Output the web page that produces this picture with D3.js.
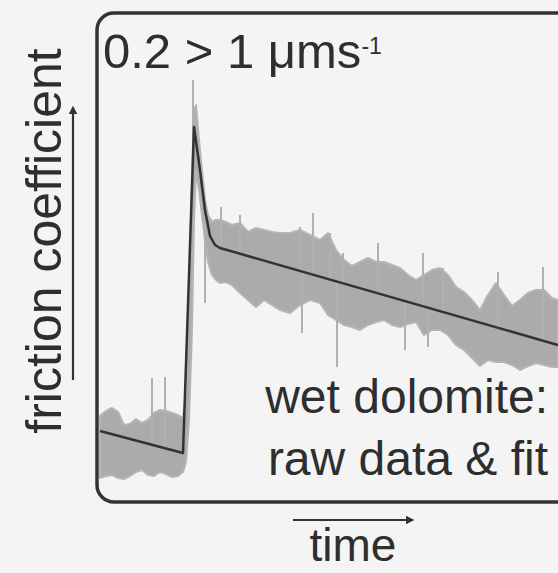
<!DOCTYPE html>
<html>
<head>
<meta charset="utf-8">
<script src="https://cdn.jsdelivr.net/npm/d3@7"></script>
<style>
  body { margin: 0; background: #f4f4f4; }
  svg { display: block; }
  text { font-family: "Liberation Sans", Arial, Helvetica, sans-serif; fill: #2e2e2e; }
</style>
</head>
<body>
<div id="chart"></div>
<script>
// fit line (time in arbitrary s, friction coefficient)
var fitT  = [0, 83, 94, 100, 105, 110, 115, 120, 458];
var fitMu = [0.5345, 0.5235, 0.6865, 0.665, 0.645, 0.632, 0.6275, 0.626, 0.5775];

// raw data envelope
var rawT = [0, 6, 12, 18, 24, 30, 36, 42, 48, 54, 60, 66, 72, 78, 83, 86, 89, 92, 94, 96, 99,
  102, 105, 108, 112, 116, 120, 126, 132, 140, 148, 156, 164, 172, 180, 190, 200, 210, 220,
  228, 236, 244, 252, 260, 268, 276, 284, 292, 300, 308, 316, 324, 332, 340, 348, 356, 364,
  372, 380, 388, 396, 404, 412, 420, 428, 436, 444, 452, 458];
var rawHigh = [0.542, 0.5445, 0.546, 0.544, 0.5375, 0.538, 0.5405, 0.5385, 0.54, 0.5435, 0.545,
  0.5445, 0.5435, 0.5425, 0.541, 0.5525, 0.6, 0.66, 0.695, 0.6975, 0.68, 0.665, 0.65, 0.6425,
  0.639, 0.64, 0.64, 0.639, 0.6375, 0.6385, 0.634, 0.636, 0.635, 0.634, 0.6335, 0.6335, 0.635,
  0.6325, 0.63, 0.6335, 0.625, 0.62, 0.617, 0.619, 0.621, 0.619, 0.619, 0.6175, 0.616, 0.6125,
  0.61, 0.6125, 0.615, 0.616, 0.6125, 0.6065, 0.604, 0.6, 0.595, 0.6025, 0.6085, 0.6025, 0.597,
  0.6, 0.6035, 0.605, 0.605, 0.601, 0.6];
var rawLow = [0.511, 0.512, 0.5125, 0.511, 0.5105, 0.512, 0.514, 0.515, 0.5125, 0.512, 0.514,
  0.513, 0.5115, 0.512, 0.514, 0.519, 0.54, 0.585, 0.64, 0.665, 0.655, 0.6425, 0.63, 0.619,
  0.6125, 0.61, 0.6085, 0.609, 0.6075, 0.6035, 0.6, 0.5965, 0.6, 0.5975, 0.595, 0.5935, 0.5975,
  0.6, 0.5985, 0.5925, 0.59, 0.5875, 0.5865, 0.585, 0.5875, 0.589, 0.59, 0.5875, 0.5865, 0.588,
  0.589, 0.5825, 0.585, 0.585, 0.5825, 0.5775, 0.575, 0.571, 0.567, 0.57, 0.569, 0.569, 0.5675,
  0.565, 0.567, 0.5685, 0.5675, 0.5665, 0.5665];

// single spikes in the raw signal: time and extreme value
var spikeT  = [52, 65, 93, 121, 140, 200, 213, 230, 243, 278, 323, 343, 398, 443, 105, 202, 237, 305, 328];
var spikeMu = [0.561, 0.5615, 0.71, 0.6465, 0.6425, 0.6365, 0.6435, 0.6335, 0.6235, 0.6285, 0.6235,
  0.616, 0.614, 0.6165, 0.5985, 0.5835, 0.5665, 0.575, 0.5765];

var svgWidth = 558;
var svgHeight = 573;

var svg = d3.select("#chart")
  .append("svg")
  .attr("width", svgWidth)
  .attr("height", svgHeight);

var xScale = d3.scaleLinear().domain([0, 460]).range([100, 560]);
var yScale = d3.scaleLinear().domain([0.5, 0.74]).range([500, 20]);
// piecewise fit, used to start the spikes on the fit
var fitAt = d3.scaleLinear().domain(fitT).range(fitMu);

// frame
svg.append("rect")
  .attr("x", 97)
  .attr("y", 13)
  .attr("width", 480)
  .attr("height", 489)
  .attr("rx", 17)
  .attr("fill", "#f4f4f4")
  .attr("stroke", "#333")
  .attr("stroke-width", 3.5);

var plot = svg.append("g");

// raw data band
var rawRows = rawT.map(function(t, i) {
  return { t: t, hi: rawHigh[i], lo: rawLow[i] };
});
var area = d3.area()
  .x(d => xScale(d.t))
  .y0(d => yScale(d.lo))
  .y1(d => yScale(d.hi));

plot.append("path")
  .datum(rawRows)
  .attr("d", area)
  .attr("fill", "#ababab")
  .attr("stroke", "#b5b5b5")
  .attr("stroke-width", 2)
  .attr("stroke-linejoin", "round");

plot.selectAll("line.spike")
  .data(spikeT)
  .enter()
  .append("line")
  .attr("class", "spike")
  .attr("x1", d => xScale(d))
  .attr("x2", d => xScale(d))
  .attr("y1", d => yScale(fitAt(d)))
  .attr("y2", (d, i) => yScale(spikeMu[i]))
  .attr("stroke", "#b0b0b0")
  .attr("stroke-width", 2);

// fit line
var line = d3.line()
  .x(d => xScale(d[0]))
  .y(d => yScale(d[1]));

plot.append("path")
  .datum(fitT.map((t, i) => [t, fitMu[i]]))
  .attr("d", line)
  .attr("fill", "none")
  .attr("stroke", "#333")
  .attr("stroke-width", 2.5)
  .attr("stroke-linejoin", "round");

// labels in the box
var title = svg.append("text")
  .attr("x", 103)
  .attr("y", 68)
  .attr("font-size", 49);
title.append("tspan").text("0.2 > 1 μms");
title.append("tspan")
  .attr("font-size", 23)
  .attr("dy", -14)
  .text("-1");

svg.append("text")
  .attr("x", 548)
  .attr("y", 413)
  .attr("text-anchor", "end")
  .attr("font-size", 48)
  .text("wet dolomite:");

svg.append("text")
  .attr("x", 548)
  .attr("y", 475)
  .attr("text-anchor", "end")
  .attr("font-size", 48)
  .text("raw data & fit");

// arrowheads
var defs = svg.append("defs");
defs.append("marker")
  .attr("id", "head")
  .attr("viewBox", "0 0 10 10")
  .attr("refX", 5)
  .attr("refY", 5)
  .attr("markerWidth", 4)
  .attr("markerHeight", 4)
  .attr("orient", "auto")
  .append("path")
  .attr("d", "M0,0 L10,5 L0,10 Z")
  .attr("fill", "#333");

// y axis label and arrow
svg.append("text")
  .attr("transform", "translate(61, 241) rotate(-90)")
  .attr("text-anchor", "middle")
  .attr("font-size", 50)
  .text("friction coefficient");

svg.append("line")
  .attr("x1", 73).attr("x2", 73)
  .attr("y1", 380).attr("y2", 110)
  .attr("stroke", "#333")
  .attr("stroke-width", 2.2)
  .attr("marker-end", "url(#head)");

// x axis label and arrow
svg.append("line")
  .attr("x1", 293).attr("x2", 410)
  .attr("y1", 520).attr("y2", 520)
  .attr("stroke", "#333")
  .attr("stroke-width", 2.2)
  .attr("marker-end", "url(#head)");

svg.append("text")
  .attr("x", 353)
  .attr("y", 561)
  .attr("text-anchor", "middle")
  .attr("font-size", 46)
  .text("time");
</script>
</body>
</html>
